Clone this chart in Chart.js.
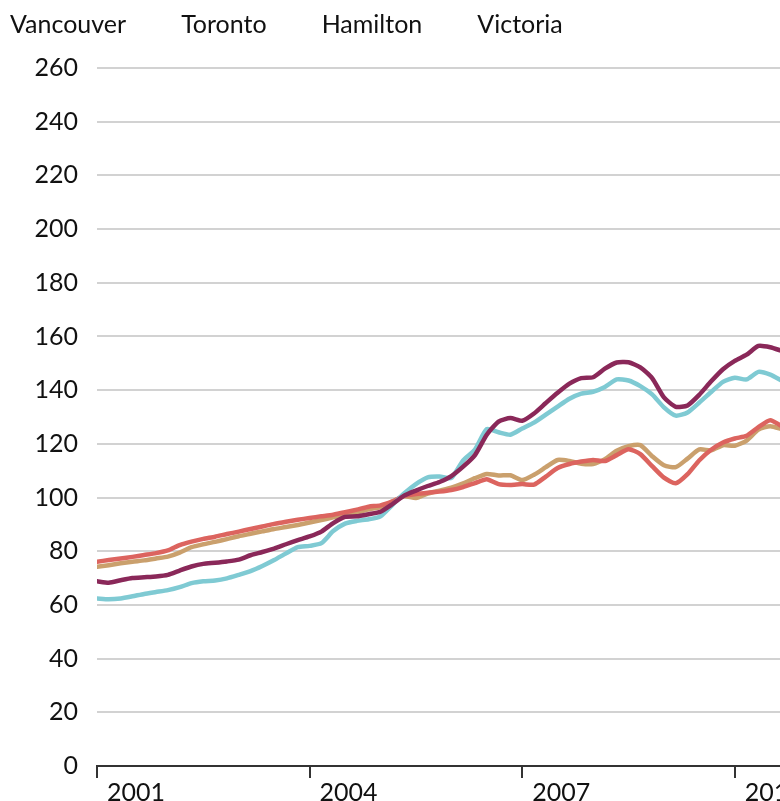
<!DOCTYPE html>
<html>
<head>
<meta charset="utf-8">
<script src="https://cdn.jsdelivr.net/npm/chart.js@4/dist/chart.umd.min.js"></script>
<style>
html,body{margin:0;padding:0;background:#fff;overflow:hidden;width:780px;height:801px;}
#wrap{position:relative;width:800px;height:801px;}
#legend{position:absolute;left:10px;top:8px;display:flex;gap:55px;font-family:Lato,sans-serif;font-size:25px;color:#111;line-height:30px;white-space:nowrap;z-index:2;}
canvas{position:absolute;left:0;top:0;}
</style>
</head>
<body>
<div id="wrap">
  <div id="legend"></div>
  <canvas id="c" width="800" height="801"></canvas>
</div>
<script>
// Sampling dates (every two months, YYYY-MM)
const months = [
  '2001-01','2001-03','2001-05','2001-07','2001-09','2001-11',
  '2002-01','2002-03','2002-05','2002-07','2002-09','2002-11',
  '2003-01','2003-03','2003-05','2003-07','2003-09','2003-11',
  '2004-01','2004-03','2004-05','2004-07','2004-09','2004-11',
  '2005-01','2005-03','2005-05','2005-07','2005-09','2005-11',
  '2006-01','2006-03','2006-05','2006-07','2006-09','2006-11',
  '2007-01','2007-03','2007-05','2007-07','2007-09','2007-11',
  '2008-01','2008-03','2008-05','2008-07','2008-09','2008-11',
  '2009-01','2009-03','2009-05','2009-07','2009-09','2009-11',
  '2010-01','2010-03','2010-05','2010-07','2010-09'
];

const seriesNames = ['Vancouver', 'Toronto', 'Hamilton', 'Victoria'];

const vancouver = [
  68.8, 68.3, 69.2, 70.0, 70.3, 70.6, 71.2, 72.8, 74.3, 75.3, 75.7, 76.2,
  76.9, 78.5, 79.7, 81.0, 82.6, 84.1, 85.5, 87.3, 90.5, 92.8, 93.0, 93.8,
  94.7, 97.5, 100.7, 102.6, 104.3, 105.8, 108.0, 111.5, 115.8, 123.4, 128.3, 129.6,
  128.6, 131.3, 135.2, 139.0, 142.4, 144.5, 144.8, 148.0, 150.3, 150.4, 148.5, 144.5,
  137.3, 133.8, 134.3, 138.3, 143.3, 147.8, 150.9, 153.2, 156.5, 156.0, 154.6
];

const toronto = [
  76.1, 76.7, 77.3, 77.9, 78.6, 79.3, 80.3, 82.3, 83.6, 84.6, 85.4, 86.4,
  87.3, 88.3, 89.2, 90.2, 91.0, 91.7, 92.4, 93.0, 93.6, 94.5, 95.5, 96.6,
  97.1, 98.6, 100.6, 101.3, 101.8, 102.2, 102.8, 103.9, 105.4, 106.8, 105.0, 104.7,
  105.0, 104.8, 107.8, 111.0, 112.5, 113.4, 114.0, 113.6, 115.8, 118.0, 116.2, 111.7,
  107.4, 105.3, 108.7, 113.9, 117.8, 120.5, 122.0, 123.0, 126.2, 128.8, 126.5
];

const hamilton = [
  74.2, 74.8, 75.5, 76.1, 76.6, 77.3, 78.0, 79.5, 81.5, 82.6, 83.5, 84.5,
  85.6, 86.5, 87.4, 88.3, 89.0, 89.8, 90.7, 91.6, 92.6, 93.6, 94.5, 95.6,
  96.4, 98.4, 100.5, 99.8, 101.5, 102.6, 103.7, 105.3, 107.2, 108.8, 108.2, 108.3,
  106.5, 108.5, 111.3, 114.0, 113.6, 112.6, 112.5, 114.3, 117.4, 119.1, 119.5, 115.4,
  112.0, 111.3, 114.5, 117.9, 117.6, 119.5, 119.3, 121.2, 125.3, 126.6, 125.5
];

const victoria = [
  62.4, 62.1, 62.4, 63.2, 64.1, 64.8, 65.5, 66.6, 68.1, 68.8, 69.1, 69.9,
  71.2, 72.6, 74.5, 76.7, 79.2, 81.5, 82.0, 83.0, 87.5, 90.3, 91.3, 91.9,
  93.0, 97.2, 101.5, 105.0, 107.5, 107.8, 107.3, 113.8, 117.9, 125.5, 124.3, 123.4,
  125.7, 127.9, 130.9, 133.9, 136.8, 138.7, 139.4, 141.2, 144.0, 143.6, 141.5, 138.4,
  133.6, 130.5, 131.7, 135.4, 139.3, 143.1, 144.6, 144.0, 146.8, 145.8, 143.5
];

const xTickYears = [2001, 2004, 2007, 2010];
const yTicks = [0, 20, 40, 60, 80, 100, 120, 140, 160, 180, 200, 220, 240, 260];

const FONT = 'Lato, "Open Sans", sans-serif';

// legend (text only, as in the reference)
const legendEl = document.getElementById('legend');
seriesNames.forEach(n => {
  const s = document.createElement('span');
  s.textContent = n;
  legendEl.appendChild(s);
});

const toYear = m => { const [y, mo] = m.split('-').map(Number); return y + (mo - 1) / 12; };
const xs = months.map(toYear);
const pts = arr => arr.map((v, i) => ({ x: xs[i], y: v }));

new Chart(document.getElementById('c'), {
  type: 'line',
  data: {
    datasets: [
      { label: 'Vancouver', data: pts(vancouver), borderColor: '#8a2859', order: 0 },
      { label: 'Victoria',  data: pts(victoria),  borderColor: '#7fcad3', order: 1 },
      { label: 'Toronto',   data: pts(toronto),   borderColor: '#dc645f', order: 2 },
      { label: 'Hamilton',  data: pts(hamilton),  borderColor: '#caa06d', order: 3 }
    ]
  },
  options: {
    responsive: false,
    animation: false,
    devicePixelRatio: 1,
    layout: { padding: { top: 68, left: 0, right: 0, bottom: 0 } },
    plugins: { legend: { display: false }, tooltip: { enabled: false } },
    elements: {
      point: { radius: 0 },
      line: { borderWidth: 4.5, tension: 0.2, borderCapStyle: 'round', borderJoinStyle: 'round', fill: false }
    },
    scales: {
      x: {
        type: 'linear',
        min: 2001,
        max: 2010.92,
        afterBuildTicks: s => { s.ticks = xTickYears.map(v => ({ value: v })); },
        afterFit: s => { s.height = 35; },
        border: { display: true, color: '#333', width: 2 },
        grid: { drawOnChartArea: false, drawTicks: true, tickLength: 12, color: '#333', lineWidth: 2 },
        ticks: {
          align: 'start', labelOffset: 10, padding: 0, maxRotation: 0, autoSkip: false,
          color: '#111', font: { family: FONT, size: 25 },
          callback: v => String(v)
        }
      },
      y: {
        min: 0,
        max: 260,
        afterBuildTicks: s => { s.ticks = yTicks.map(v => ({ value: v })); },
        afterFit: s => { s.width = 97; },
        border: { display: false },
        grid: { color: '#d2d2d2', lineWidth: 2, drawTicks: false },
        ticks: { padding: 19, color: '#111', font: { family: FONT, size: 25 } }
      }
    }
  }
});
</script>
</body>
</html>
